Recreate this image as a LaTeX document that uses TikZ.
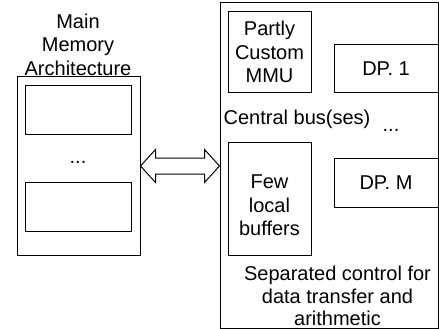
\documentclass[tikz,border=0pt]{standalone}
\usepackage{fontspec}
\setmainfont{Liberation Sans}
\usetikzlibrary{calc}
\tikzset{
	box/.style={draw, line width=1pt, inner sep=0pt, align=center},
	lbl/.style={inner sep=0pt, align=center},
}
\begin{document}
\begin{tikzpicture}[x=1pt,y=-1pt, font=\fontsize{20}{23.5}\selectfont]
\useasboundingbox (0,0) rectangle (439,329);
% main memory
\node[box, minimum width=123pt, minimum height=179pt] (mem) at (78.5,166) {};
\node[box, minimum width=106pt, minimum height=49pt] (bank1) at (78,109.5) {};
\node[box, minimum width=106pt, minimum height=49pt] (bank2) at (78,206.5) {};
\node[lbl, anchor=base] (memdots) at (78,163) {...};
\node[lbl] (memtitle) at (78,44.5) {Main\\Memory\\Architecture};
% core
\node[box, minimum width=218pt, minimum height=325pt] (core) at (329,165.5) {};
\node[box, minimum width=83pt, minimum height=80pt] (mmu) at (269.5,52) {Partly\\Custom\\MMU};
\node[box, minimum width=104pt, minimum height=47pt] (dp1) at (386,68.5) {DP. 1};
\node[box, minimum width=104pt, minimum height=49pt] (dpm) at (386,182.5) {DP. M};
\node[box, minimum width=83pt, minimum height=113pt] (buf) at (269.5,198.5) {};
\node[lbl] (buftxt) at (269.5,205.5) {Few\\local\\buffers};
\node[lbl, anchor=base] (bus) at (297,124) {Central bus(ses)};
\node[lbl, anchor=base] (dpdots) at (391,131) {...};
\node[lbl] (ctrl) at (337.5,296) {Separated control for\\[-1pt]data transfer and\\[-1pt]arithmetic};
% link between memory and core
\coordinate (linkR) at (mem.east -| core.west);
\draw[line width=1pt] (mem.east) -- ++(15,-16.5) -- ++(0,8.5)
	-- ($(linkR)+(-15,-8)$) -- ++(0,-8.5) -- (linkR) -- ++(-15,16.5) -- ++(0,-8.5)
	-- ($(mem.east)+(15,8)$) -- ++(0,8.5) -- cycle;
\end{tikzpicture}
\end{document}
